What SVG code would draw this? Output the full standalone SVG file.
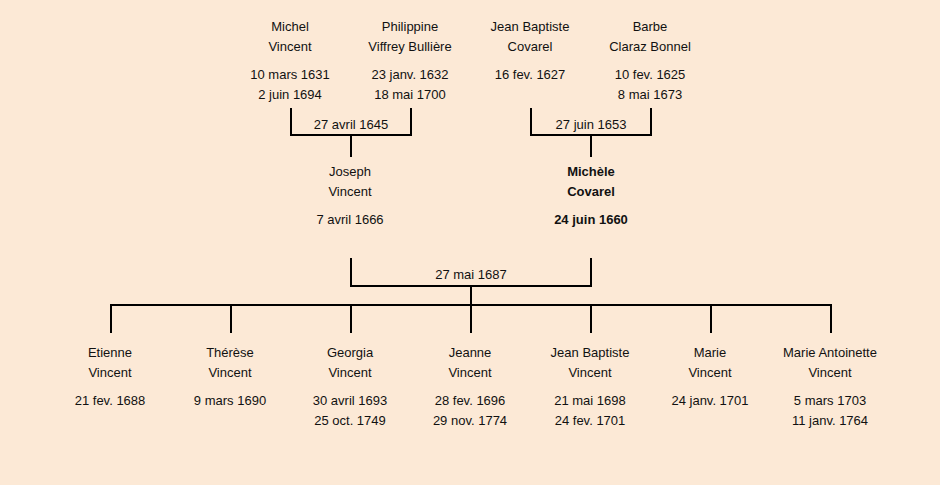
<svg xmlns="http://www.w3.org/2000/svg" width="940" height="485" viewBox="0 0 940 485">
<style>
text{font-family:"Liberation Sans",Arial,sans-serif;font-size:13px;fill:#111;text-anchor:middle}
.b{font-weight:bold}
.c{stroke:#000;stroke-width:2;fill:none}
</style>
<rect width="940" height="485" fill="#fce9d6"/>
<g id="connectors" class="c">
<path d="M291 108V135H411V108M351 135V157"/>
<path d="M531 108V135H651V108M591 135V157"/>
<path d="M351 258V286H591V258M471 286V305"/>
<path d="M111 333V305H831V333M231 305V333M351 305V333M471 305V333M591 305V333M711 305V333"/>
</g>
<g id="michel"><text x="290" y="31">Michel</text><text x="290" y="51">Vincent</text><text x="290" y="79">10 mars 1631</text><text x="290" y="99">2 juin 1694</text></g>
<g id="philippine"><text x="410" y="31">Philippine</text><text x="410" y="51">Viffrey Bullière</text><text x="410" y="79">23 janv. 1632</text><text x="410" y="99">18 mai 1700</text></g>
<g id="jeanbaptiste-covarel"><text x="530" y="31">Jean Baptiste</text><text x="530" y="51">Covarel</text><text x="530" y="79">16 fev. 1627</text></g>
<g id="barbe"><text x="650" y="31">Barbe</text><text x="650" y="51">Claraz Bonnel</text><text x="650" y="79">10 fev. 1625</text><text x="650" y="99">8 mai 1673</text></g>
<g id="m1"><text x="351" y="129">27 avril 1645</text></g>
<g id="m2"><text x="591" y="129">27 juin 1653</text></g>
<g id="joseph"><text x="350" y="176">Joseph</text><text x="350" y="196">Vincent</text><text x="350" y="224">7 avril 1666</text></g>
<g id="michele"><text class="b" x="591" y="176">Michèle</text><text class="b" x="591" y="196">Covarel</text><text class="b" x="591" y="224">24 juin 1660</text></g>
<g id="m3"><text x="471" y="279">27 mai 1687</text></g>
<g id="etienne"><text x="110" y="357">Etienne</text><text x="110" y="377">Vincent</text><text x="110" y="405">21 fev. 1688</text></g>
<g id="therese"><text x="230" y="357">Thérèse</text><text x="230" y="377">Vincent</text><text x="230" y="405">9 mars 1690</text></g>
<g id="georgia"><text x="350" y="357">Georgia</text><text x="350" y="377">Vincent</text><text x="350" y="405">30 avril 1693</text><text x="350" y="425">25 oct. 1749</text></g>
<g id="jeanne"><text x="470" y="357">Jeanne</text><text x="470" y="377">Vincent</text><text x="470" y="405">28 fev. 1696</text><text x="470" y="425">29 nov. 1774</text></g>
<g id="jeanbaptiste-vincent"><text x="590" y="357">Jean Baptiste</text><text x="590" y="377">Vincent</text><text x="590" y="405">21 mai 1698</text><text x="590" y="425">24 fev. 1701</text></g>
<g id="marie"><text x="710" y="357">Marie</text><text x="710" y="377">Vincent</text><text x="710" y="405">24 janv. 1701</text></g>
<g id="marie-antoinette"><text x="830" y="357">Marie Antoinette</text><text x="830" y="377">Vincent</text><text x="830" y="405">5 mars 1703</text><text x="830" y="425">11 janv. 1764</text></g>
</svg>
